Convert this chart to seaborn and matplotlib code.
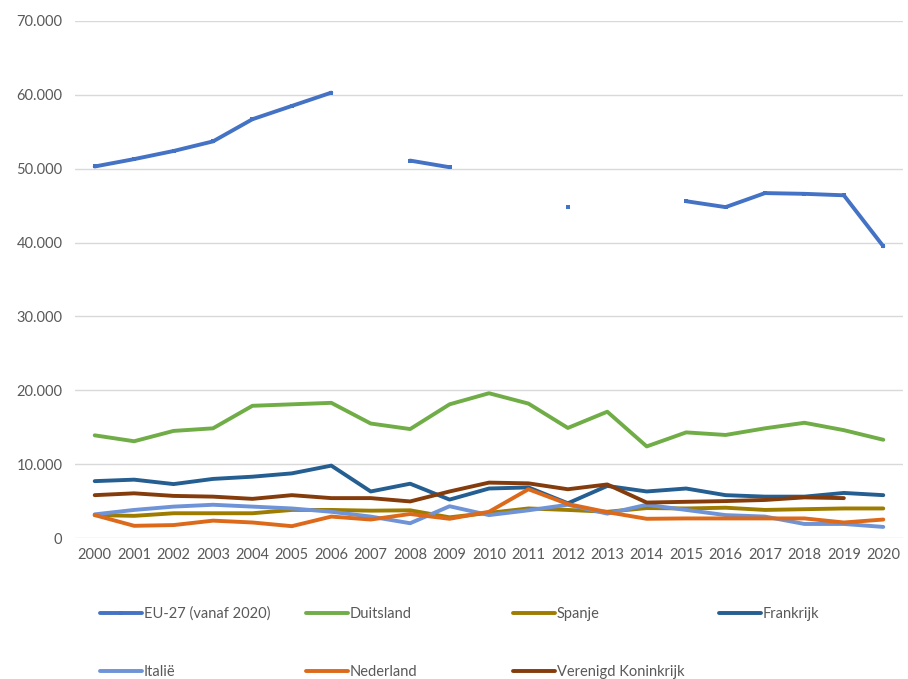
import numpy as np
import pandas as pd
import matplotlib
matplotlib.use('Agg')
import matplotlib.pyplot as plt
from matplotlib.lines import Line2D
from matplotlib.ticker import FuncFormatter
import seaborn as sns

years = list(range(2000, 2021))

# values (NaN = gap in the series)
nan = np.nan
eu27 = [50300, 51300, 52400, 53700, 56700, 58500, 60300, nan, 51100, 50200,
        nan, nan, 44800, nan, nan, 45600, 44800, 46700, 46600, 46400, 39500]
duitsland = [13900, 13100, 14500, 14850, 17900, 18100, 18300, 15500, 14750, 18100,
             19600, 18200, 14900, 17100, 12400, 14300, 13950, 14850, 15600, 14600, 13300]
spanje = [3100, 3000, 3350, 3350, 3350, 3800, 3800, 3700, 3750, 2800,
          3400, 4000, 3800, 3550, 4050, 4000, 4100, 3800, 3900, 4000, 4000]
frankrijk = [7700, 7900, 7300, 8000, 8300, 8750, 9800, 6300, 7350, 5200,
             6700, 6850, 4700, 7050, 6300, 6700, 5800, 5600, 5600, 6100, 5800]
italie = [3200, 3800, 4250, 4500, 4250, 4000, 3550, 2900, 2000, 4300,
          3100, 3750, 4500, 3300, 4500, 3800, 3100, 2900, 1900, 1900, 1500]
nederland = [3100, 1650, 1750, 2350, 2100, 1600, 2900, 2500, 3250, 2600,
             3550, 6600, 4600, 3500, 2600, 2650, 2650, 2650, 2650, 2100, 2500]
vk = [5800, 6050, 5700, 5600, 5300, 5800, 5400, 5400, 4950, 6300,
      7500, 7400, 6600, 7250, 4800, 4900, 5000, 5150, 5500, 5400, nan]

series = {
    'EU-27 (vanaf 2020)': eu27,
    'Duitsland': duitsland,
    'Spanje': spanje,
    'Frankrijk': frankrijk,
    'Italië': italie,
    'Nederland': nederland,
    'Verenigd Koninkrijk': vk,
}
colors = {
    'EU-27 (vanaf 2020)': '#4472C4',
    'Duitsland': '#70AD47',
    'Spanje': '#9E7C00',
    'Frankrijk': '#255E91',
    'Italië': '#6E93D6',
    'Nederland': '#DC6A1A',
    'Verenigd Koninkrijk': '#843C0C',
}

sns.set_style('white')
plt.rcParams['font.family'] = ['Lato', 'DejaVu Sans']

fig = plt.figure(figsize=(9.08, 6.79), dpi=100)
ax = fig.add_axes([75 / 908, (679 - 538) / 679, (903 - 75) / 908, (538 - 21) / 679])

# long-form table, with a segment id so gaps stay gaps
rows = []
for name, vals in series.items():
    seg = 0
    for i, v in enumerate(vals):
        if np.isnan(v):
            seg += 1
            continue
        rows.append({'pos': i, 'value': v, 'land': name, 'seg': seg})
df = pd.DataFrame(rows)

for name in series:
    sub = df[df['land'] == name]
    is_eu = name.startswith('EU')
    sns.lineplot(data=sub, x='pos', y='value', units='seg', estimator=None,
                 color=colors[name], linewidth=2.8, ax=ax,
                 marker='s' if is_eu else None, markersize=3.5,
                 markeredgewidth=0, legend=False)

ax.set_xlim(-0.5, len(years) - 0.5)
ax.set_ylim(0, 70000)
ax.set_xticks(range(len(years)))
ax.set_xticklabels([str(y) for y in years])
ax.set_yticks(range(0, 70001, 10000))
ax.yaxis.set_major_formatter(FuncFormatter(lambda v, p: f"{int(v):,}".replace(',', '.')))
ax.set_xlabel('')
ax.set_ylabel('')
ax.grid(axis='y', color='#D9D9D9', linewidth=1)
ax.set_axisbelow(True)
for s in ax.spines.values():
    s.set_visible(False)
ax.tick_params(axis='both', length=0, labelsize=10.5, labelcolor='#595959')
ax.tick_params(axis='y', pad=9)
ax.tick_params(axis='x', pad=7)

# legend, laid out like the Excel one: 4 equal columns, 2 rows
col_x = [100, 306, 513, 719]
row_y = [614, 672]
for k, name in enumerate(series):
    is_eu = name.startswith('EU')
    h = Line2D([], [], color=colors[name], linewidth=2.8,
               marker='s' if is_eu else None, markersize=3, markeredgewidth=0)
    x = col_x[k % 4] / 908
    y = (679 - row_y[k // 4]) / 679
    leg = fig.legend(handles=[h], labels=[name], loc='center left',
                     bbox_to_anchor=(x, y), frameon=False, handlelength=2.9,
                     handletextpad=0.1, borderaxespad=0, borderpad=0,
                     fontsize=10.5, labelcolor='#595959')

plt.savefig('out.png', dpi=100)
plt.close()
